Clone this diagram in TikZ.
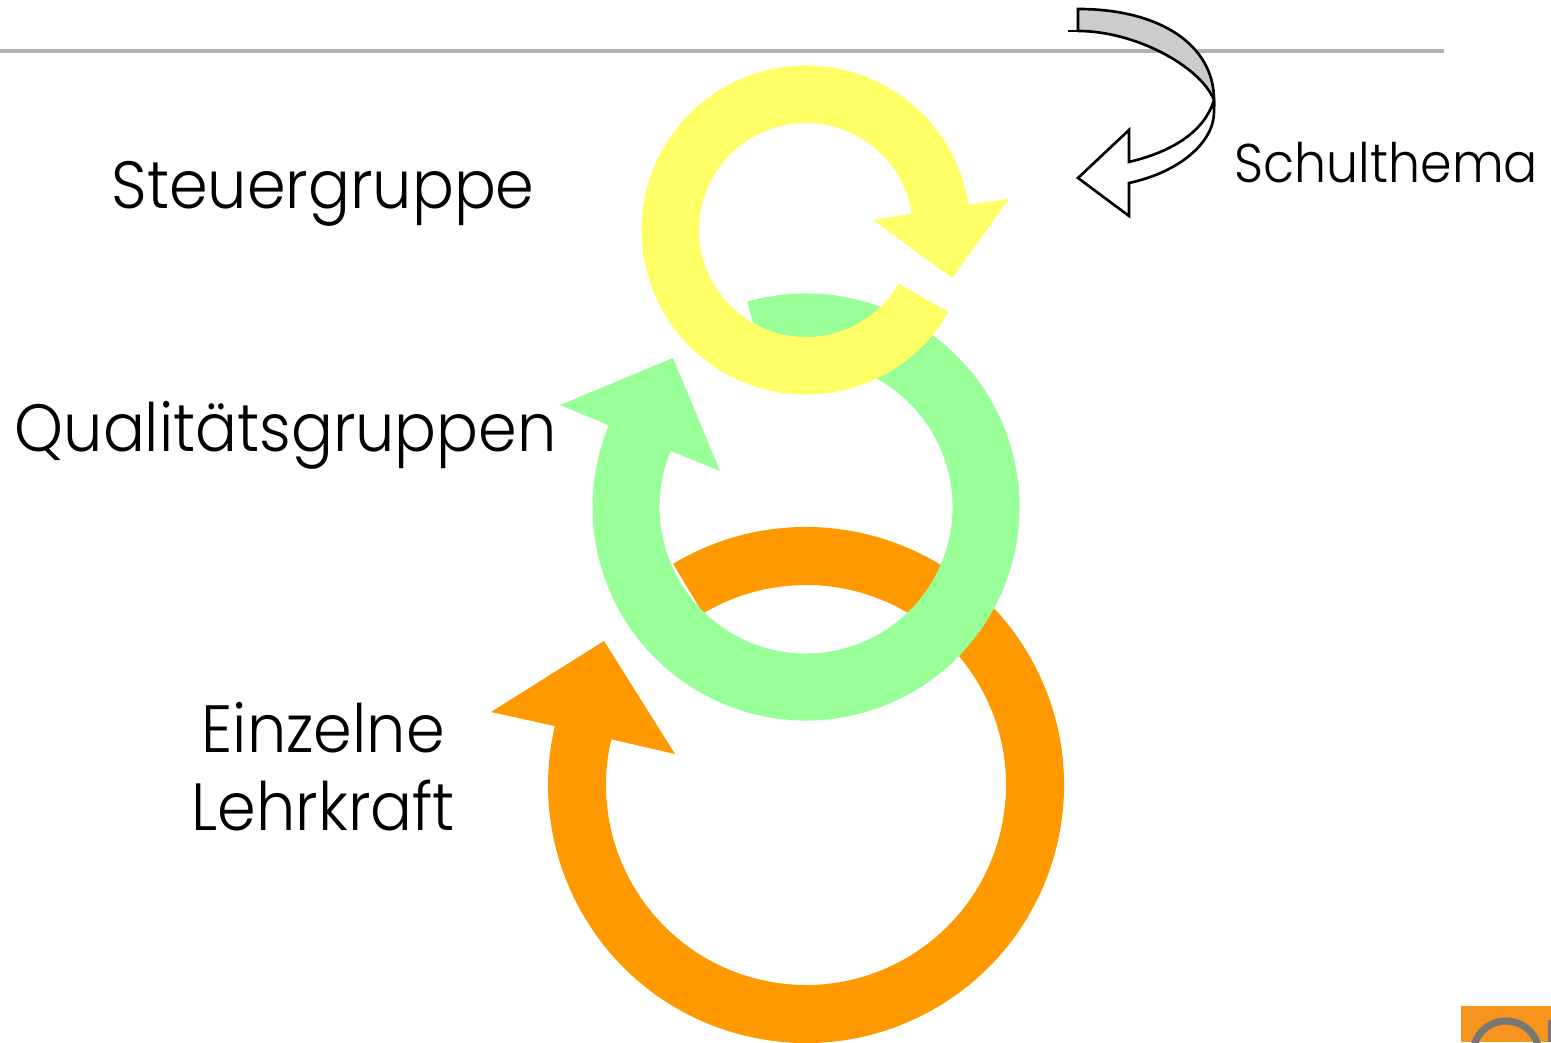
\documentclass[tikz,border=0pt]{standalone}
\usepackage{fontspec}
\setmainfont{Poppins Light}[FakeStretch=0.93]
\definecolor{ringorange}{HTML}{FF9900}
\definecolor{ringgreen}{HTML}{99FF99}
\definecolor{ringyellow}{HTML}{FFFF66}
\definecolor{logoorange}{HTML}{F7941E}
\definecolor{logogrey}{HTML}{777777}
\definecolor{rulegrey}{HTML}{B2B2B2}
\definecolor{foldgrey}{HTML}{CCCCCC}
\tikzset{
  biglabel/.style={anchor=base west,inner sep=0pt,font=\fontsize{19}{23}\selectfont},
  smalllabel/.style={anchor=base west,inner sep=0pt,font=\fontsize{15.5}{19}\selectfont},
  foldline/.style={draw=black,line width=0.75pt,line join=miter}
}
\begin{document}
\begin{tikzpicture}
      \useasboundingbox (0,0) rectangle (15.51,10.42);
      % top rule
      \coordinate (RL) at (0,9.91);
      \coordinate (RR) at (14.44,9.91);
      \draw[rulegrey,line width=1.1pt] (RL) -- (RR);
      % orange ring
      \coordinate (O) at (8.06,2.57);
      \coordinate (O1) at (4.91,3.30);
      \coordinate (O2) at (6.04,4.01);
      \coordinate (O3) at (6.75,2.88);
      \fill[ringorange] ([shift={(121:2.58)}]O) arc[start angle=121,end angle=-193.2,radius=2.58]
        -- (O1) -- (O2) -- (O3) -- ([shift={(166.8:2)}]O)
        arc[start angle=-193.2,end angle=121,radius=2] -- cycle;
      % green ring
      \coordinate (G) at (8.06,5.35);
      \coordinate (G1) at (5.60,6.37);
      \coordinate (G2) at (6.73,6.84);
      \coordinate (G3) at (7.20,5.71);
      \fill[ringgreen] ([shift={(106:2.135)}]G) arc[start angle=106,end angle=-202.5,radius=2.135]
        -- (G1) -- (G2) -- (G3) -- ([shift={(157.5:1.465)}]G)
        arc[start angle=-202.5,end angle=106,radius=1.465] -- cycle;
      % yellow ring
      \coordinate (Y) at (8.06,8.12);
      \coordinate (Y1) at (10.09,8.43);
      \coordinate (Y2) at (9.52,7.64);
      \coordinate (Y3) at (8.73,8.22);
      \fill[ringyellow] ([shift={(-30:1.645)}]Y) arc[start angle=-30,end angle=-351.2,radius=1.645]
        -- (Y1) -- (Y2) -- (Y3) -- ([shift={(-351.2:1.07)}]Y)
        arc[start angle=-351.2,end angle=-30,radius=1.07] -- cycle;
      % curved arrow
      \coordinate (A1) at (10.78,10.33);
      \coordinate (A2) at (12.14,9.42);
      \coordinate (A3) at (10.78,10.11);
      \coordinate (A4) at (10.68,10.11);
      \coordinate (A5) at (11.29,8.80);
      \coordinate (A6) at (11.29,9.12);
      \coordinate (A7) at (10.78,8.64);
      \coordinate (A8) at (11.29,8.26);
      \coordinate (A9) at (11.29,8.59);
      \draw[foldline,fill=foldgrey] (A3) -- (A1) .. controls (11.60,10.33) and (12.14,9.97) .. (A2)
        .. controls (12.00,9.76) and (11.35,10.11) .. (A3);
      \draw[foldline] (A4) -- (A3);
      \draw[foldline,fill=white] (A2) .. controls (12.05,9.12) and (11.75,8.91) .. (A5)
        -- (A6) -- (A7) -- (A8) -- (A9)
        .. controls (11.80,8.70) and (12.14,9.00) .. (12.14,9.30) -- (A2);
      % labels
      \node[biglabel] (steuer) at (1.11,8.33) {Steuergruppe};
      \node[biglabel] (quali) at (0.14,5.90) {Qualitätsgruppen};
      \node[biglabel] (einzel) at (2.01,2.90) {Einzelne};
      \node[biglabel] (lehr) at (1.91,2.12) {Lehrkraft};
      \node[smalllabel] (thema) at (12.34,8.59) {Schulthema};
      % logo corner
      \coordinate (L1) at (14.61,0);
      \coordinate (L2) at (15.51,0.36);
      \fill[logoorange] (L1) rectangle (L2);
      \begin{scope}
        \clip (L1) rectangle (L2);
        \draw[logogrey,line width=2pt] (15.06,-0.12) circle[radius=0.33];
        \fill[logogrey] (15.48,0) rectangle (15.51,0.22);
      \end{scope}
    \end{tikzpicture}
\end{document}
